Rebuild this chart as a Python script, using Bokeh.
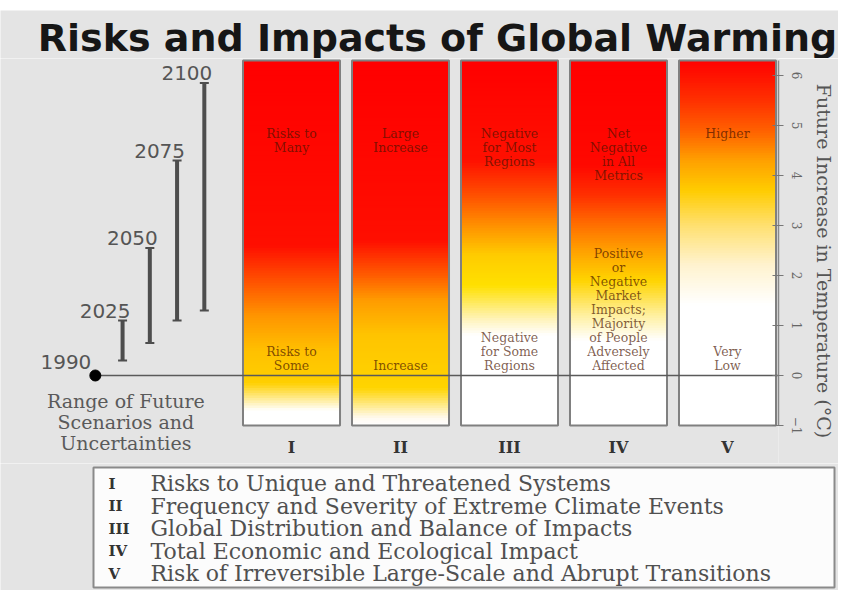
import numpy as np
from bokeh.plotting import figure
from bokeh.models import Range1d, LinearAxis, FixedTicker, ColumnDataSource
from bokeh.layouts import column
from bokeh.core.properties import value
from bokeh.embed import file_html
from bokeh.resources import INLINE

# ---------------- data ----------------
title_text = "Risks and Impacts of Global Warming"
categories = ["I", "II", "III", "IV", "V"]
descriptions = [
    "Risks to Unique and Threatened Systems",
    "Frequency and Severity of Extreme Climate Events",
    "Global Distribution and Balance of Impacts",
    "Total Economic and Ecological Impact",
    "Risk of Irreversible Large-Scale and Abrupt Transitions",
]
low_labels = [
    "Risks to\nSome",
    "Increase",
    "Negative\nfor Some\nRegions",
    "Positive\nor\nNegative\nMarket\nImpacts;\nMajority\nof People\nAdversely\nAffected",
    "Very\nLow",
]
high_labels = [
    "Risks to\nMany",
    "Large\nIncrease",
    "Negative\nfor Most\nRegions",
    "Net\nNegative\nin All\nMetrics",
    "Higher",
]

# colour stops of each "ember" (temperature in degC, colour)
ember_stop_temps = [
    [-1.0, -0.7, -0.15, 0.5, 1.2, 1.9, 2.6, 6.3],
    [-1.0, -0.85, -0.25, 0.8, 1.5, 2.0, 2.7, 6.3],
    [-1.0, 0.8, 1.1, 1.8, 2.4, 3.0, 3.6, 4.3, 6.3],
    [-1.0, 0.7, 1.2, 1.9, 2.5, 3.0, 3.6, 4.2, 6.3],
    [-1.0, 1.4, 2.2, 3.0, 3.7, 4.3, 4.9, 5.5, 6.3],
]
ember_stop_colors = [
    ["#ffffff", "#ffffff", "#ffd000", "#ffc000", "#ff9400", "#ff5000", "#ff0e00", "#ff0000"],
    ["#ffffff", "#fffaf0", "#ffd400", "#ffc400", "#ff9c00", "#ff5c00", "#ff0e00", "#ff0000"],
    ["#ffffff", "#ffffff", "#fff4c0", "#ffe000", "#ffcc00", "#ff9000", "#ff5000", "#ff1000", "#ff0000"],
    ["#ffffff", "#ffffff", "#fff0a0", "#ffd400", "#ffa000", "#ff7000", "#ff3000", "#ff0800", "#ff0000"],
    ["#ffffff", "#ffffff", "#fff3d0", "#ffe070", "#ffcc00", "#ffa000", "#ff6000", "#ff3000", "#ff0000"],
]
temp_min, temp_max = -1.0, 6.3

years = ["1990", "2025", "2050", "2075", "2100"]
range_low = [0.0, 0.3, 0.65, 1.1, 1.3]
range_high = [0.0, 1.1, 2.55, 4.3, 5.85]
temp_ticks = [-1, 0, 1, 2, 3, 4, 5, 6]

BG = "#e4e4e4"
SERIF = value("DejaVu Serif")
TOTAL_W = 838

# ---------------- title panel ----------------
t = figure(frame_width=TOTAL_W, frame_height=48, x_range=Range1d(0, TOTAL_W),
           y_range=Range1d(58, 10), x_axis_type=None, y_axis_type=None,
           toolbar_location=None, output_backend="svg",
           min_border_left=0, min_border_top=10, min_border_bottom=0, min_border_right=0)
t.background_fill_color = BG
t.border_fill_color = "#ffffff"
t.outline_line_color = None
t.text(x=[437], y=[37], text=[title_text], text_font=value("DejaVu Sans"),
       text_font_size="38px", text_font_style="bold", text_color="#161616",
       text_align="center", text_baseline="middle")

# ---------------- main panel ----------------
p = figure(frame_width=778, frame_height=405, x_range=Range1d(-2.670, 4.468),
           y_range=Range1d(-1.76, 6.34), x_axis_type=None, y_axis_type=None,
           toolbar_location=None, output_backend="svg",
           min_border_left=0, min_border_top=0, min_border_bottom=0, min_border_right=60)
p.background_fill_color = BG
p.border_fill_color = BG
p.outline_line_color = None

# embers as stacked thin slices
half_w = 0.445
edges = np.linspace(temp_min, temp_max, 147)
L, R, B, T, C = [], [], [], [], []
for i, (st, sc) in enumerate(zip(ember_stop_temps, ember_stop_colors)):
    rgb = np.array([[int(c[k:k + 2], 16) for k in (1, 3, 5)] for c in sc], float)
    for a, b in zip(edges[:-1], edges[1:]):
        m = 0.5 * (a + b)
        col = [int(round(np.interp(m, st, rgb[:, j]))) for j in range(3)]
        L.append(i - half_w); R.append(i + half_w)
        B.append(a); T.append(min(b + 0.012, temp_max))
        C.append("#%02x%02x%02x" % tuple(col))
p.quad(left="left", right="right", bottom="bottom", top="top", fill_color="color",
       line_color=None, source=ColumnDataSource(dict(left=L, right=R, bottom=B, top=T, color=C)))

xs = list(range(len(categories)))
p.quad(left=[x - half_w for x in xs], right=[x + half_w for x in xs],
       bottom=[temp_min] * len(xs), top=[temp_max] * len(xs),
       fill_color=None, line_color="#808080", line_width=2)

# year ranges
year_x = [-1.8 + 0.25 * k for k in range(len(years))]
p.segment(x0=year_x[0], y0=0, x1=4.468, y1=0, line_color="#5a5a5a", line_width=1.6)
p.segment(x0=year_x[1:], y0=range_low[1:], x1=year_x[1:], y1=range_high[1:],
          line_color="#4d4d4d", line_width=4)
p.scatter(x=year_x[1:] * 2, y=range_low[1:] + range_high[1:], marker="dash", size=9,
          line_color="#4d4d4d", line_width=2)
p.scatter(x=[year_x[0]], y=[0], size=11, color="#000000")
p.text(x=year_x, y=range_high, text=years, text_font=value("DejaVu Sans"),
       text_font_size="20px", text_color="#555555", text_align="right",
       text_baseline="bottom", x_offset=[-4, 8, 8, 8, 8], y_offset=[-7, -3, -3, -3, -3])

p.text(x=[-1.52] * 3, y=[-0.5, -0.92, -1.34],
       text=["Range of Future", "Scenarios and", "Uncertainties"],
       text_font=SERIF, text_font_size="19px", text_color="#5a5a5a",
       text_align="center", text_baseline="middle")

# ember labels
lx, ly, lt = [], [], []
step = 0.28
for i, (lo, hi) in enumerate(zip(low_labels, high_labels)):
    lines = lo.split("\n")
    n = len(lines)
    for k, s in enumerate(lines):
        lx.append(i); ly.append(0.2 + (n - 1 - k) * step); lt.append(s)
    for k, s in enumerate(hi.split("\n")):
        lx.append(i); ly.append(4.84 - k * step); lt.append(s)
p.text(x=lx, y=ly, text=lt, text_font=SERIF, text_font_size="12.5px",
       text_color="#4a1400", text_alpha=0.7, text_align="center", text_baseline="middle")

# roman numerals under the embers
p.text(x=xs, y=[-1.44] * len(xs), text=categories, text_font=SERIF,
       text_font_size="16px", text_font_style="bold", text_color="#333333",
       text_align="center", text_baseline="middle")

# right temperature axis
ax = LinearAxis(ticker=FixedTicker(ticks=temp_ticks), bounds=(temp_min, temp_max),
                axis_label="Future Increase in Temperature (\u00b0C)")
ax.axis_line_color = "#8a8a8a"
ax.axis_line_width = 1.5
ax.major_tick_line_color = "#777777"
ax.major_tick_in = 6
ax.major_tick_out = 5
ax.minor_tick_line_color = None
ax.major_label_orientation = "parallel"
ax.major_label_standoff = 8
ax.major_label_text_font = "DejaVu Serif"
ax.major_label_text_font_size = "12px"
ax.major_label_text_color = "#666666"
ax.axis_label_standoff = 8
ax.axis_label_text_font = "DejaVu Serif"
ax.axis_label_text_font_size = "19px"
ax.axis_label_text_font_style = "normal"
ax.axis_label_text_color = "#555555"
p.add_layout(ax, "right")

# ---------------- legend panel ----------------
q = figure(frame_width=TOTAL_W, frame_height=127, x_range=Range1d(0, TOTAL_W),
           y_range=Range1d(590, 463), x_axis_type=None, y_axis_type=None,
           toolbar_location=None, output_backend="svg",
           min_border_left=0, min_border_top=0, min_border_bottom=0, min_border_right=0)
q.background_fill_color = BG
q.border_fill_color = BG
q.outline_line_color = None
q.quad(left=[93], right=[834], top=[467], bottom=[587], fill_color="#fcfcfc",
       line_color="#8a8a8a", line_width=2)
row_y = [483 + 22.5 * k for k in range(len(categories))]
q.text(x=[108] * len(categories), y=row_y, text=categories, text_font=SERIF,
       text_font_size="15px", text_font_style="bold", text_color="#333333",
       text_align="left", text_baseline="middle")
q.text(x=[150] * len(descriptions), y=row_y, text=descriptions, text_font=SERIF,
       text_font_size="22px", text_color="#505050", text_align="left",
       text_baseline="middle")

layout = column(t, p, q, spacing=0)
open("out.html", "w").write(file_html(layout, INLINE))
